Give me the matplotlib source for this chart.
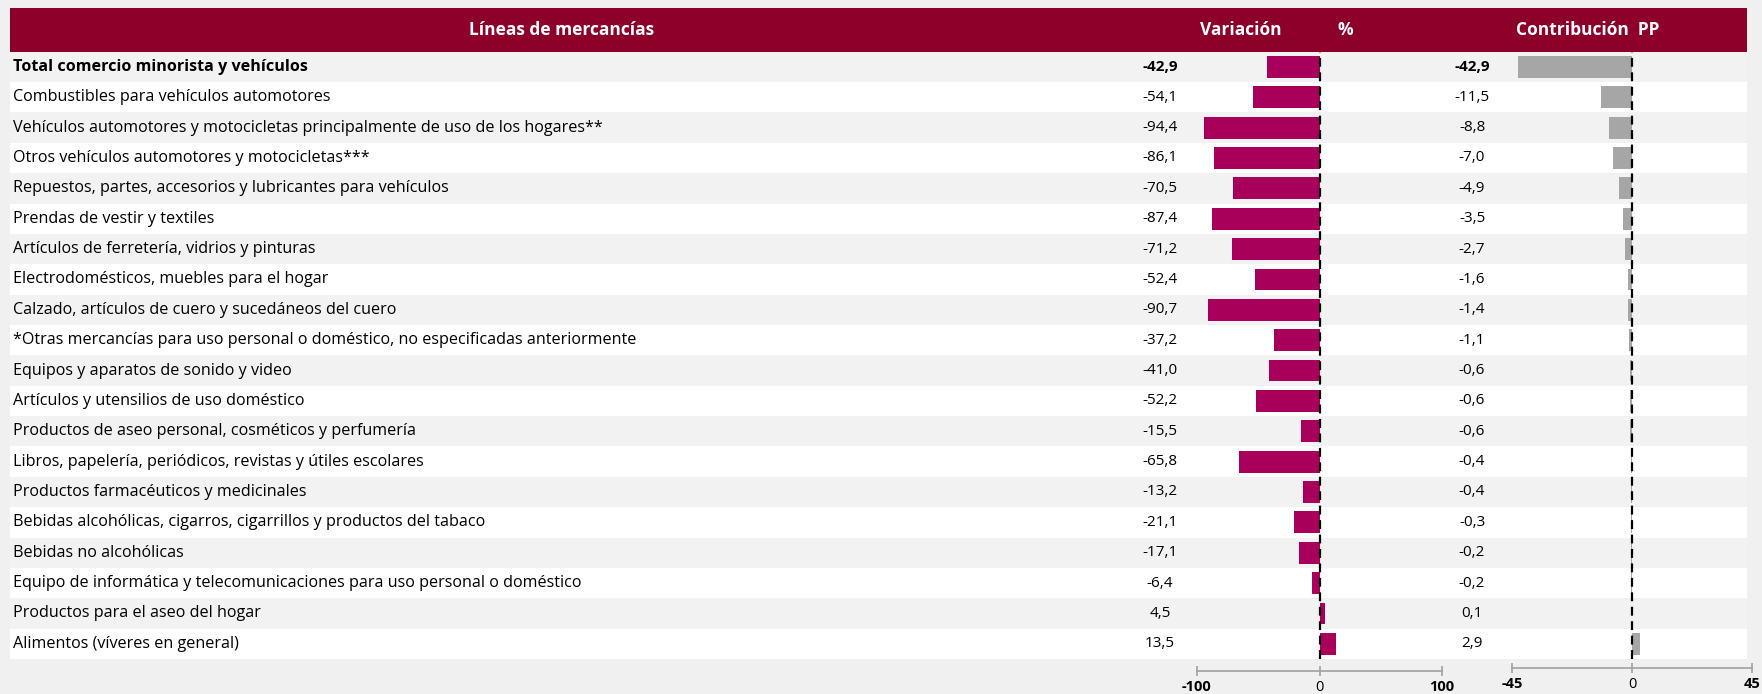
import numpy as np
import matplotlib
matplotlib.use("Agg")
import matplotlib.pyplot as plt
from matplotlib.patches import Rectangle

plt.rcParams['font.family'] = ['Open Sans', 'DejaVu Sans']

categorias = [
    "Total comercio minorista y vehículos",
    "Combustibles para vehículos automotores",
    "Vehículos automotores y motocicletas principalmente de uso de los hogares**",
    "Otros vehículos automotores y motocicletas***",
    "Repuestos, partes, accesorios y lubricantes para vehículos",
    "Prendas de vestir y textiles",
    "Artículos de ferretería, vidrios y pinturas",
    "Electrodomésticos, muebles para el hogar",
    "Calzado, artículos de cuero y sucedáneos del cuero",
    "*Otras mercancías para uso personal o doméstico, no especificadas anteriormente",
    "Equipos y aparatos de sonido y video",
    "Artículos y utensilios de uso doméstico",
    "Productos de aseo personal, cosméticos y perfumería",
    "Libros, papelería, periódicos, revistas y útiles escolares",
    "Productos farmacéuticos y medicinales",
    "Bebidas alcohólicas, cigarros, cigarrillos y productos del tabaco",
    "Bebidas no alcohólicas",
    "Equipo de informática y telecomunicaciones para uso personal o doméstico",
    "Productos para el aseo del hogar",
    "Alimentos (víveres en general)",
]
variacion = [-42.9, -54.1, -94.4, -86.1, -70.5, -87.4, -71.2, -52.4, -90.7, -37.2,
             -41.0, -52.2, -15.5, -65.8, -13.2, -21.1, -17.1, -6.4, 4.5, 13.5]
contribucion = [-42.9, -11.5, -8.8, -7.0, -4.9, -3.5, -2.7, -1.6, -1.4, -1.1,
                -0.6, -0.6, -0.6, -0.4, -0.4, -0.3, -0.2, -0.2, 0.1, 2.9]

W, H = 1762, 694
VINO = "#8c0029"
MAGENTA = "#a8005a"
GRIS = "#a6a6a6"
FONDO = "#f0f0f0"


def rect(x0, y0, x1, y1):
    # pixel box -> figure fraction
    return [x0 / W, 1 - y1 / H, (x1 - x0) / W, (y1 - y0) / H]


fig = plt.figure(figsize=(W / 100, H / 100), dpi=100, facecolor=FONDO)

n = len(categorias)
y = np.arange(n)
top, bottom = 51.7, 659

# header
hdr = fig.add_axes(rect(10, 7.5, 1747, top))
hdr.set_axis_off()
hdr.add_patch(Rectangle((0, 0), 1, 1, transform=hdr.transAxes, color=VINO))
hdr.set_xlim(10, 1747)
hdr.set_ylim(0, 1)
hkw = dict(color="white", fontsize=12.5, fontweight="bold", va="center")
hdr.text(562, 0.5, "Líneas de mercancías", ha="center", **hkw)
hdr.text(1241, 0.5, "Variación", ha="center", **hkw)
hdr.text(1345, 0.5, "%", ha="center", **hkw)
hdr.text(1588, 0.5, "Contribución  PP", ha="center", **hkw)

# table with rows
tab = fig.add_axes(rect(10, top, 1747, bottom))
tab.set_axis_off()
tab.set_xlim(10, 1747)
tab.set_ylim(n - 0.5, -0.5)
for i in range(n):
    tab.axhspan(i - 0.5, i + 0.5, color="#f2f2f2" if i % 2 == 0 else "white", lw=0)
for i, (cat, v, c) in enumerate(zip(categorias, variacion, contribucion)):
    fw = "bold" if i == 0 else "normal"
    tab.text(13, i, cat, va="center", ha="left", fontsize=11.6, fontweight=fw, color="black")
    tab.text(1160, i, f"{v:.1f}".replace(".", ","), va="center", ha="center",
             fontsize=11, fontweight=fw)
    tab.text(1472, i, f"{c:.1f}".replace(".", ","), va="center", ha="center",
             fontsize=11, fontweight=fw)


def barras(ax, vals, color, lim, ticks, outward):
    ax.barh(y, vals, height=0.72, color=color)
    ax.set_xlim(-lim, lim)
    ax.set_ylim(n - 0.5, -0.5)
    ax.patch.set_alpha(0)
    ax.axvline(0, color="black", lw=1.6, ls=(0, (4, 2.5)), ymax=1.0)
    for s in ["top", "left", "right"]:
        ax.spines[s].set_visible(False)
    ax.spines["bottom"].set_position(("outward", outward))
    ax.spines["bottom"].set_color("#a0a0a0")
    ax.spines["bottom"].set_linewidth(1.2)
    ax.set_yticks([])
    ax.set_xticks(ticks)
    ax.set_xticklabels([f"{t:g}" for t in ticks])
    ax.tick_params(axis="x", direction="inout", length=7, width=1.2, color="#a0a0a0",
                   labelsize=10.5, pad=3)
    for lab, t in zip(ax.get_xticklabels(), ticks):
        if t != 0:
            lab.set_fontweight("bold")


axv = fig.add_axes(rect(1197, top, 1442, bottom))
barras(axv, variacion, MAGENTA, 100, [-100, 0, 100], 8.5)

axc = fig.add_axes(rect(1512, top, 1752, bottom))
barras(axc, contribucion, GRIS, 45, [-45, 0, 45], 6.5)

fig.savefig("out.png", dpi=100, facecolor=FONDO)
